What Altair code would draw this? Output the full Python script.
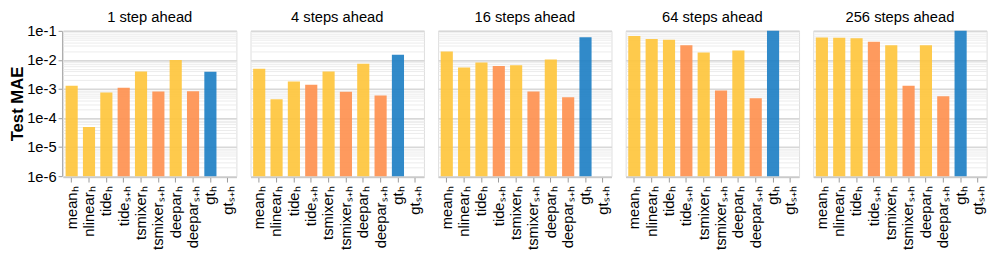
import altair as alt
import pandas as pd

horizons = ["1 step ahead", "4 steps ahead", "16 steps ahead", "64 steps ahead", "256 steps ahead"]
models = ["meanₕ", "nlinearₕ", "tideₕ", "tideₛ₊ₕ", "tsmixerₕ", "tsmixerₛ₊ₕ",
          "deeparₕ", "deeparₛ₊ₕ", "gtₕ", "gtₛ₊ₕ"]
groups = ["h", "h", "h", "s+h", "h", "s+h", "h", "s+h", "gt", "gt"]

mae_1 = [1.3e-3, 4.9e-5, 7.6e-4, 1.1e-3, 4.0e-3, 8.1e-4, 1.0e-2, 8.3e-4, 3.9e-3, 1e-7]
mae_4 = [5.0e-3, 4.4e-4, 1.8e-3, 1.4e-3, 4.0e-3, 8.0e-4, 7.4e-3, 5.9e-4, 1.5e-2, 1e-7]
mae_16 = [1.95e-2, 5.5e-3, 8.2e-3, 6.2e-3, 6.5e-3, 8.1e-4, 1.04e-2, 5.2e-4, 6.0e-2, 1e-7]
mae_64 = [6.6e-2, 5.2e-2, 4.9e-2, 3.2e-2, 1.8e-2, 8.8e-4, 2.1e-2, 4.8e-4, 0.2, 1e-7]
mae_256 = [5.9e-2, 5.8e-2, 5.5e-2, 4.2e-2, 3.2e-2, 1.3e-3, 3.2e-2, 5.6e-4, 0.2, 1e-7]

series = [mae_1, mae_4, mae_16, mae_64, mae_256]
rows = []
for h, vals in zip(horizons, series):
    for m, g, v in zip(models, groups, vals):
        rows.append({"horizon": h, "model": m, "group": g, "mae": v})
df = pd.DataFrame(rows)

tick_vals = [m * 10.0 ** e for e in range(-6, -1) for m in range(1, 10)] + [1e-1]
is_major = "abs(log(datum.value)/LN10 - round(log(datum.value)/LN10)) < 1e-6"

chart = alt.Chart(df).mark_bar(opacity=0.92).encode(
    x=alt.X("model:N", sort=models, title=None,
            scale=alt.Scale(paddingInner=0.3, paddingOuter=0.15),
            axis=alt.Axis(labelAngle=-90, labelFontSize=15, labelFont="Liberation Sans",
                          labelColor="#000", tickColor="#999", domainColor="#aaa",
                          labelPadding=4, tickSize=5)),
    y=alt.Y("mae:Q", title="Test MAE",
            scale=alt.Scale(type="log", domain=[1e-6, 1e-1], clamp=True, nice=False),
            axis=alt.Axis(values=tick_vals,
                          labelExpr=f"({is_major}) ? format(datum.value, '.0e') : ''",
                          labelFontSize=15, labelFont="Liberation Sans", labelColor="#000",
                          titleFontSize=17, titleFont="Liberation Sans", titleFontWeight="bold",
                          titleColor="#000", titlePadding=0, labelPadding=2, tickSize=4,
                          domainColor="#aaa", tickColor="#999",
                          tickOpacity=alt.condition(is_major, alt.value(1), alt.value(0)),
                          gridColor=alt.condition(is_major, alt.value("#d8d8d8"), alt.value("#ececec")),
                          gridWidth=alt.condition(is_major, alt.value(1.5), alt.value(1)),
                          labelOverlap=False)),
    color=alt.Color("group:N",
                    scale=alt.Scale(domain=["h", "s+h", "gt"],
                                    range=["#fec63d", "#fe9150", "#1f80c4"]),
                    legend=None),
).properties(width=176.6, height=148).facet(
    column=alt.Column("horizon:N", sort=horizons,
                      header=alt.Header(title=None, labelFontSize=15,
                                        labelFont="Liberation Sans", labelColor="#000",
                                        labelPadding=5)),
    spacing=12,
).properties(padding=0).configure_view(stroke="#ddd").configure_axis(labelFont="Liberation Sans")

chart.save("out.html", embed_options={"renderer": "svg", "actions": False})
